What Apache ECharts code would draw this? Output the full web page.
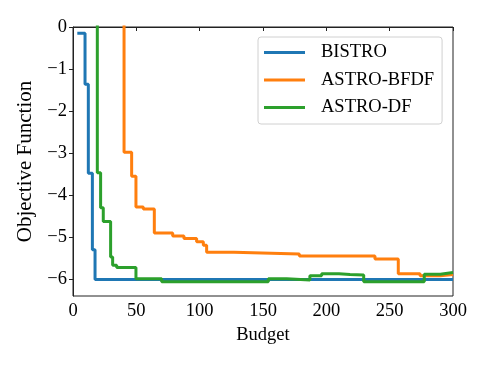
<!DOCTYPE html>
<html>
<head>
<meta charset="utf-8">
<script src="https://cdn.jsdelivr.net/npm/echarts@6/dist/echarts.min.js"></script>
<style>
	html, body { margin: 0; padding: 0; background: #fff; }
	#chart { width: 488px; height: 366px; }
</style>
</head>
<body>
<div id="chart"></div>
<script>
// 数据
var seriesNames = ['BISTRO', 'ASTRO-BFDF', 'ASTRO-DF'];
var seriesColors = ['#1f77b4', '#ff7f0e', '#2ca02c'];

var bistroX = [3.4, 9.5, 12.1, 15.3, 17.4, 300];
var bistroY = [-0.15, -1.36, -3.48, -5.3, -6.01, -6.01];

// 起点在 0 以上，被坐标轴裁掉
var bfdfX = [38, 40.3, 46.3, 49.7, 55.5, 64.2, 78.7, 87.6, 97.6, 102.9, 105.5, 127.1, 178.7, 238.4, 256.8, 274, 290, 300];
var bfdfY = [1, -2.98, -3.55, -4.28, -4.33, -4.9, -4.97, -5.03, -5.11, -5.19, -5.36, -5.4, -5.45, -5.52, -5.87, -5.92, -5.89, -5.89];

var dfX = [17, 19.2, 21.8, 23.9, 29.7, 31.3, 34.5, 49.7, 70, 154.2, 168.7, 187, 196.3, 210, 218.7, 229.5, 277.3, 290, 300];
var dfY = [1, -3.47, -4.3, -4.63, -5.47, -5.67, -5.72, -5.99, -6.06, -5.99, -6.02, -5.92, -5.87, -5.89, -5.9, -6.06, -5.88, -5.84, -5.84];

var xTicks = [0, 50, 100, 150, 200, 250, 300];
var yTicks = [-6, -5, -4, -3, -2, -1, 0];

var fontName = 'Liberation Serif';
var fontSize = 18.5;

/**
 * 把 x、y 两个数组合成点
 */
function zipXY(xs, ys) {
	var out = [];
	for (var i = 0; i < xs.length; i++) {
		out.push([xs[i], ys[i]]);
	}
	return out;
}

/**
 * 负号用 U+2212
 */
function minusFormatter(val) {
	return String(val).replace('-', '\u2212');
}

function makeSeries(idx, xs, ys) {
	return {
		name : seriesNames[idx],
		type : 'line',
		step : 'end',
		symbol : 'none',
		clip : true,
		lineStyle : { width : 3, color : seriesColors[idx] },
		itemStyle : { color : seriesColors[idx] },
		data : zipXY(xs, ys)
	};
}

var myChart = echarts.init(document.getElementById('chart'), null, { renderer : 'canvas' });

var option = {
	animation : false,
	textStyle : { fontFamily : fontName },
	grid : {
		left : 73, right : 35, top : 27, bottom : 70,
		show : true, borderColor : '#222', borderWidth : 1,
		backgroundColor : 'transparent'
	},
	legend : {
		orient : 'vertical',
		left : 258, top : 37,
		padding : [6, 8, 7, 6],
		itemWidth : 41, itemHeight : 3, itemGap : 8.5,
		icon : 'rect',
		borderColor : '#d0d0d0', borderWidth : 1, borderRadius : 3,
		backgroundColor : 'rgba(255,255,255,0.8)',
		textStyle : { fontFamily : fontName, fontSize : fontSize, color : '#000',
			lineHeight : 18, padding : [0, 0, 0, 11] },
		data : seriesNames
	},
	xAxis : {
		type : 'value',
		min : 0, max : 300, interval : 50,
		name : 'Budget',
		nameLocation : 'middle',
		nameGap : 27,
		nameTextStyle : { fontFamily : fontName, fontSize : fontSize, color : '#000' },
		axisLine : { show : true, lineStyle : { color : '#222', width : 1 } },
		axisTick : { show : true, inside : false, length : 4, lineStyle : { color : '#222' } },
		axisLabel : { margin : 6, fontFamily : fontName, fontSize : fontSize, color : '#000',
			customValues : xTicks },
		splitLine : { show : false }
	},
	yAxis : {
		type : 'value',
		min : -6.4, max : 0,
		name : 'Objective Function',
		nameLocation : 'middle',
		nameGap : 33,
		nameTextStyle : { fontFamily : fontName, fontSize : 21, color : '#000' },
		axisLine : { show : true, onZero : false, lineStyle : { color : '#222', width : 1 } },
		axisTick : { show : true, inside : false, length : 4, lineStyle : { color : '#222' },
			customValues : yTicks },
		axisLabel : { margin : 6, fontFamily : fontName, fontSize : fontSize, color : '#000',
			customValues : yTicks, formatter : minusFormatter },
		splitLine : { show : false }
	},
	series : [
		makeSeries(0, bistroX, bistroY),
		makeSeries(1, bfdfX, bfdfY),
		makeSeries(2, dfX, dfY)
	]
};

myChart.setOption(option);
</script>
</body>
</html>
